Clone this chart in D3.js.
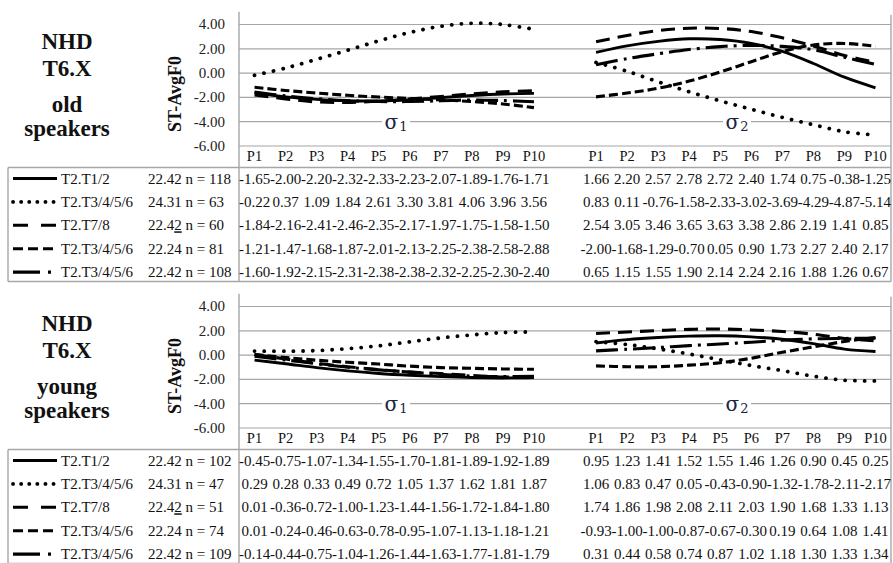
<!DOCTYPE html>
<html>
<head>
<meta charset="utf-8">
<script src="https://cdn.jsdelivr.net/npm/d3@7/dist/d3.min.js"></script>
<style>
  html, body { margin: 0; padding: 0; background: #fff; }
  svg { display: block; }
</style>
</head>
<body>
<svg id="chart" width="893" height="563" font-family="Liberation Serif, Times New Roman, serif"></svg>
<script>
// Category axis: two blocks of measurement points with an empty slot between them
const categories = ["P1","P2","P3","P4","P5","P6","P7","P8","P9","P10","",
                    "P1","P2","P3","P4","P5","P6","P7","P8","P9","P10"];
const yTicks = [4, 2, 0, -2, -4, -6];
const yDomain = [-6, 5];

const seriesNames = ["T2.T1/2", "T2.T3/4/5/6", "T2.T7/8", "T2.T3/4/5/6", "T2.T3/4/5/6"];
const seriesMeans = ["22.42", "24.31", "22.42", "22.24", "22.42"];
const oldCounts   = [118, 63, 60, 81, 108];
const youngCounts = [102, 47, 51, 74, 109];

// Old speakers: sigma1 block, then sigma2 block
const oldSigma1 = [
  [-1.65,-2.00,-2.20,-2.32,-2.33,-2.23,-2.07,-1.89,-1.76,-1.71],
  [-0.22, 0.37, 1.09, 1.84, 2.61, 3.30, 3.81, 4.06, 3.96, 3.56],
  [-1.84,-2.16,-2.41,-2.46,-2.35,-2.17,-1.97,-1.75,-1.58,-1.50],
  [-1.21,-1.47,-1.68,-1.87,-2.01,-2.13,-2.25,-2.38,-2.58,-2.88],
  [-1.60,-1.92,-2.15,-2.31,-2.38,-2.38,-2.32,-2.25,-2.30,-2.40]
];
const oldSigma2 = [
  [ 1.66, 2.20, 2.57, 2.78, 2.72, 2.40, 1.74, 0.75,-0.38,-1.25],
  [ 0.83, 0.11,-0.76,-1.58,-2.33,-3.02,-3.69,-4.29,-4.87,-5.14],
  [ 2.54, 3.05, 3.46, 3.65, 3.63, 3.38, 2.86, 2.19, 1.41, 0.85],
  [-2.00,-1.68,-1.29,-0.70, 0.05, 0.90, 1.73, 2.27, 2.40, 2.17],
  [ 0.65, 1.15, 1.55, 1.90, 2.14, 2.24, 2.16, 1.88, 1.26, 0.67]
];

// Young speakers
const youngSigma1 = [
  [-0.45,-0.75,-1.07,-1.34,-1.55,-1.70,-1.81,-1.89,-1.92,-1.89],
  [ 0.29, 0.28, 0.33, 0.49, 0.72, 1.05, 1.37, 1.62, 1.81, 1.87],
  [ 0.01,-0.36,-0.72,-1.00,-1.23,-1.44,-1.56,-1.72,-1.84,-1.80],
  [ 0.01,-0.24,-0.46,-0.63,-0.78,-0.95,-1.07,-1.13,-1.18,-1.21],
  [-0.14,-0.44,-0.75,-1.04,-1.26,-1.44,-1.63,-1.77,-1.81,-1.79]
];
const youngSigma2 = [
  [ 0.95, 1.23, 1.41, 1.52, 1.55, 1.46, 1.26, 0.90, 0.45, 0.25],
  [ 1.06, 0.83, 0.47, 0.05,-0.43,-0.90,-1.32,-1.78,-2.11,-2.17],
  [ 1.74, 1.86, 1.98, 2.08, 2.11, 2.03, 1.90, 1.68, 1.33, 1.13],
  [-0.93,-1.00,-1.00,-0.87,-0.67,-0.30, 0.19, 0.64, 1.08, 1.41],
  [ 0.31, 0.44, 0.58, 0.74, 0.87, 1.02, 1.18, 1.30, 1.33, 1.34]
];

// Line styles per series (plot stroke and legend key stroke)
const seriesStyles = [
  { width: 2.9, dash: null,           keyDash: null,          cap: "butt"  },
  { width: 3.8, dash: "0.1 9.6",      keyDash: "0.1 8",       cap: "round" },
  { width: 3.1, dash: "14 8",         keyDash: "15 13",       cap: "butt"  },
  { width: 3.1, dash: "9 4",          keyDash: "10 5",        cap: "butt"  },
  { width: 3.1, dash: "22 6 3 6",     keyDash: "27 8 3 20",   cap: "butt"  }
];

const serif = "Liberation Serif, Times New Roman, serif";
const svg = d3.select("#chart");
svg.append("rect").attr("width", 893).attr("height", 563).attr("fill", "#fff");

const gridColor = "#a6a6a6";
const plotLeft = 239, plotRight = 891;

const x = d3.scaleBand().domain(d3.range(categories.length)).range([plotLeft, plotRight]);
const cx = i => x(i) + x.bandwidth() / 2;

function drawPanel(top, sigma1, sigma2, counts, groupLabel) {
  const g = svg.append("g").attr("transform", `translate(0,${top})`).attr("font-family", serif);
  const y = d3.scaleLinear().domain(yDomain).range([145.5, 11.85]);
  const tableTop = 167.5, rowH = 23.4, tableBottom = tableTop + rowH * 5 - 3;

  // Combined rows with an empty slot between the two blocks
  const rows = sigma1.map((s, k) => s.concat([null], sigma2[k]));

  // Horizontal gridlines
  g.append("g")
    .attr("transform", `translate(${plotLeft},0)`)
    .call(d3.axisLeft(y).tickValues(yTicks).tickSize(-(plotRight - plotLeft)).tickFormat(""))
    .call(a => a.select(".domain").remove())
    .call(a => a.selectAll("line").attr("stroke", gridColor).attr("stroke-width", 1.2));

  // Y tick labels
  g.append("g")
    .attr("transform", `translate(${plotLeft},0)`)
    .call(d3.axisLeft(y).tickValues(yTicks).tickSize(0).tickPadding(14).tickFormat(d => d.toFixed(2)))
    .attr("font-family", serif)
    .call(a => a.select(".domain").remove())
    .call(a => a.selectAll("text").attr("font-size", 15).attr("fill", "#222"));

  // Category labels
  g.append("g")
    .attr("transform", `translate(0,${y(-6)})`)
    .call(d3.axisBottom(x).tickSize(0).tickPadding(5).tickFormat(i => categories[i]))
    .attr("font-family", serif)
    .call(a => a.select(".domain").remove())
    .call(a => a.selectAll("text").attr("font-size", 14.5).attr("fill", "#111"));

  // Frame lines: vertical axis, right edge, table outline
  const frame = [
    [plotLeft, y(5), plotLeft, tableBottom],
    [plotRight, y(5) + 3, plotRight, tableBottom],
    [8, tableTop, plotRight, tableTop],
    [8, tableBottom, plotRight, tableBottom],
    [8, tableTop, 8, tableBottom]
  ];
  g.append("g").selectAll("line").data(frame).join("line")
    .attr("x1", d => d[0]).attr("y1", d => d[1]).attr("x2", d => d[2]).attr("y2", d => d[3])
    .attr("stroke", gridColor).attr("stroke-width", 1.4);

  // Sigma labels with white backing
  const sigmaPos = [{ x: 396, lab: "1" }, { x: 737, lab: "2" }];
  sigmaPos.forEach(s => {
    g.append("rect").attr("x", s.x - 14).attr("y", y(-4) - 9).attr("width", 28).attr("height", 20)
      .attr("fill", "#fff");
    const t = g.append("text").attr("x", s.x).attr("y", y(-4) + 8)
      .attr("text-anchor", "middle").attr("font-size", 20).attr("fill", "#1c2340")
      .attr("font-family", "DejaVu Serif, Liberation Serif");
    t.append("tspan").text("σ");
    t.append("tspan").attr("font-size", 13).attr("dx", 1).attr("dy", 2).text(s.lab);
  });

  // Series lines
  const line = d3.line()
    .defined(d => d != null)
    .x((d, i) => cx(i))
    .y(d => y(d))
    .curve(d3.curveCatmullRom.alpha(0.5));

  rows.forEach((r, k) => {
    const st = seriesStyles[k];
    g.append("path").datum(r).attr("d", line)
      .attr("fill", "none").attr("stroke", "#000")
      .attr("stroke-width", st.width)
      .attr("stroke-dasharray", st.dash)
      .attr("stroke-linecap", st.cap);
  });

  // Left titles
  const titles = g.append("g").attr("font-weight", "bold").attr("font-size", 23)
    .attr("text-anchor", "middle").attr("fill", "#111");
  titles.append("text").attr("x", 67).attr("y", 49).text("NHD");
  titles.append("text").attr("x", 67).attr("y", 76).text("T6.X");
  titles.append("text").attr("x", 67).attr("y", 112).text(groupLabel);
  titles.append("text").attr("x", 67).attr("y", 136).text("speakers");

  g.append("text").attr("transform", "translate(181,94) rotate(-90)")
    .attr("text-anchor", "middle").attr("font-weight", "bold").attr("font-size", 18)
    .attr("fill", "#111").text("ST-AvgF0");

  // Data table rows
  rows.forEach((r, k) => {
    const base = tableTop + 16 + rowH * k;
    const st = seriesStyles[k];
    g.append("line").attr("x1", 13).attr("x2", 57).attr("y1", base - 5).attr("y2", base - 5)
      .attr("stroke", "#000").attr("stroke-width", st.width)
      .attr("stroke-dasharray", st.keyDash).attr("stroke-linecap", st.cap);
    g.append("text").attr("x", 61).attr("y", base).attr("font-size", 15).attr("fill", "#111")
      .text(seriesNames[k]);
    const lab = g.append("text").attr("x", 148).attr("y", base).attr("font-size", 15).attr("fill", "#111");
    if (k === 2) {
      const m = seriesMeans[k];
      lab.append("tspan").text(m.slice(0, -1));
      lab.append("tspan").attr("text-decoration", "underline").text(m.slice(-1));
      lab.append("tspan").text(" n = " + counts[k]);
    } else {
      lab.text(seriesMeans[k] + " n = " + counts[k]);
    }
    g.append("g").selectAll("text")
      .data(r.map((v, i) => ({ v, i })).filter(d => d.v != null))
      .join("text")
      .attr("x", d => cx(d.i)).attr("y", base)
      .attr("text-anchor", "middle").attr("font-size", 15).attr("fill", "#111")
      .text(d => d.v.toFixed(2));
  });
}

drawPanel(0, oldSigma1, oldSigma2, oldCounts, "old");
drawPanel(282, youngSigma1, youngSigma2, youngCounts, "young");
</script>
</body>
</html>
